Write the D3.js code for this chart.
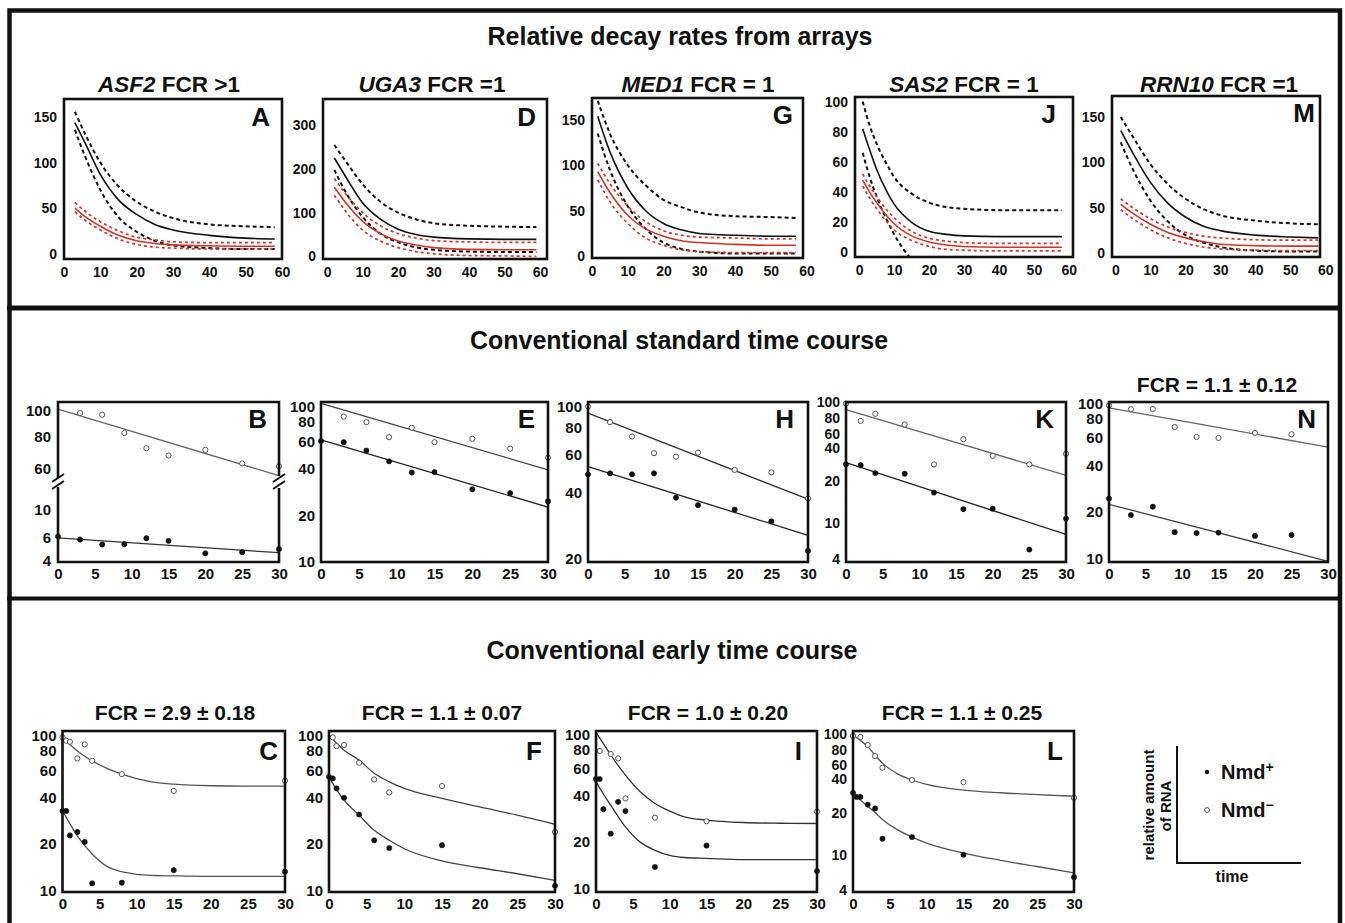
<!DOCTYPE html>
<html>
<head>
<meta charset="utf-8">
<script src="https://cdn.jsdelivr.net/npm/d3@7"></script>
<style>
  body { margin: 0; background: #fff; }
  svg text { font-family: "Liberation Sans", Arial, Helvetica, sans-serif; font-weight: bold; fill: #111; }
</style>
</head>
<body>
<svg id="fig" width="1345" height="923"></svg>
<script>
// ---------- row 1: relative decay rates from arrays (black = Nmd-, red = Nmd+) ----------
const arrXTicks = [0, 10, 20, 30, 40, 50, 60];

const aT = [3, 6, 10, 15, 20, 25, 30, 40, 50, 58];
const aBlk = [144, 120, 87, 59, 43, 32, 26, 20, 17, 16];
const aBlkHi = [156, 130, 100, 74, 57, 46, 39, 32, 30, 29];
const aBlkLo = [136, 105, 70, 40, 24, 14, 9, 6, 5, 5];
const aRed = [50, 40, 30, 20, 14, 11, 9.5, 8.5, 8, 8];
const aRedHi = [56, 46, 35, 25, 18, 15, 13, 12, 12, 12];
const aRedLo = [46, 36, 26, 16, 10, 7, 6, 5, 5, 5];

const dT = [2, 5, 10, 15, 20, 25, 30, 40, 50, 59];
const dBlk = [225, 185, 122, 85, 62, 50, 44, 40, 39, 39];
const dBlkHi = [255, 220, 165, 125, 100, 85, 76, 70, 68, 67];
const dBlkLo = [198, 150, 90, 52, 32, 21, 15, 11, 10, 10];
const dRed = [158, 125, 80, 52, 35, 26, 20, 16, 15, 15];
const dRedHi = [178, 145, 100, 70, 52, 42, 36, 33, 32, 32];
const dRedLo = [140, 105, 60, 35, 20, 11, 6, 2, 1, 0];

const gT = [1.6, 5, 10, 15, 20, 25, 30, 40, 50, 57];
const gBlk = [154, 115, 75, 50, 36, 29, 25, 23, 22, 22];
const gBlkHi = [171, 135, 100, 78, 62, 54, 48, 44, 43, 42];
const gBlkLo = [135, 95, 55, 30, 15, 8, 5, 3, 3, 3];
const gRed = [93, 70, 45, 30, 22, 17, 15, 13, 12, 12];
const gRedHi = [102, 80, 55, 38, 28, 23, 21, 20, 19, 19];
const gRedLo = [84, 60, 36, 20, 12, 7, 5, 4, 4, 4];

const jT = [1, 3, 5, 8, 10, 15, 20, 25, 30, 40, 58];
const jBlk = [82, 68, 55, 40, 32, 20, 14, 12, 11, 10.5, 10.5];
const jBlkHi = [100, 84, 72, 58, 50, 39, 33, 30, 29, 28, 28];
const jBlkLo = [66, 50, 37, 21, 12, -5, null, null, null, null, null];
const jRed = [48, 40, 33, 24, 19, 11, 7, 5, 4, 3.5, 3.5];
const jRedHi = [52, 44, 37, 28, 23, 14, 9.5, 7.5, 6.5, 6, 6];
const jRedLo = [44, 36, 29, 20, 15, 8, 4, 2, 1.5, 1, 1];

const mT = [1.5, 5, 10, 15, 20, 25, 30, 40, 50, 58];
const mBlk = [135, 110, 78, 55, 40, 30, 25, 20, 18, 17];
const mBlkHi = [150, 128, 98, 76, 60, 49, 42, 36, 33, 32];
const mBlkLo = [122, 92, 58, 35, 20, 12, 7, 3, 2, 2];
const mRed = [54, 44, 32, 23, 17, 13, 10, 8.5, 8, 8];
const mRedHi = [60, 50, 38, 29, 23, 19, 17, 15, 14.5, 14.5];
const mRedLo = [48, 38, 26, 17, 11, 7, 5, 3.5, 3, 3];

// ---------- row 2: conventional standard time course ----------
const stdXTicks = [0, 5, 10, 15, 20, 25, 30];
const fitT = [0, 30];

const bOpenT = [3, 6, 9, 12, 15, 20, 25, 30];
const bOpen = [98, 96.6, 82.3, 72, 67.5, 71, 63, 61.5];
const bFillT = [0, 3, 6, 9, 12, 15, 20, 25, 30];
const bFill = [6.16, 5.83, 5.33, 5.36, 5.97, 5.69, 4.54, 4.64, 4.9];
const bFitOpen = [101.5, 56.6];
const bFitFill = [6.0, 4.59];

const eOpenT = [3, 6, 9, 12, 15, 20, 25, 30];
const eOpen = [87, 80, 64, 73.6, 59.4, 62.5, 54, 47.2];
const eFillT = [0, 3, 6, 9, 12, 15, 20, 25, 30];
const eFill = [60.4, 59.4, 52.5, 44.7, 37.8, 38.1, 29.5, 27.9, 24.7];
const eFitOpen = [106, 39.4];
const eFitFill = [61.6, 22.6];

const hT = [0, 3, 6, 9, 12, 15, 20, 25, 30];
const hOpen = [100, 84.7, 72.8, 61, 58.8, 61.4, 51.1, 49.8, 37.8];
const hFill = [48.8, 49.3, 48.8, 49.3, 38.1, 35.2, 33.6, 29.7, 21.7];
const hFitOpen = [93.2, 37.5];
const hFitFill = [52.9, 25.6];

const kT = [0, 2, 4, 8, 12, 16, 20, 25, 30];
const kOpen = [100, 70, 81, 65, 28.5, 48, 34, 28.5, 35.5];
const kFill = [28.5, 28, 23.8, 23.5, 15.9, 11.3, 11.4, 4.9, 9.3];
const kFitOpen = [88.3, 22.7];
const kFitFill = [29.5, 6.7];

const nT = [0, 3, 6, 9, 12, 15, 20, 25];
const nOpen = [97.5, 91.9, 92.3, 70.6, 60.9, 60, 64.7, 63.4];
const nFill = [24.4, 19.1, 21.6, 14.8, 14.6, 14.7, 14.0, 14.2];
const nFitOpen = [93.7, 52.4];
const nFitFill = [22.4, 9.6];

// ---------- row 3: conventional early time course ----------
const cOpenT = [0, 0.5, 1, 2, 3, 4, 8, 15, 30];
const cOpen = [98, 93.3, 91.8, 71.6, 88.3, 69.1, 56.6, 44.1, 51.3];
const cFillT = [0, 0.5, 1, 2, 3, 4, 8, 15, 30];
const cFill = [32.7, 32.7, 22.7, 23.9, 20.6, 11.1, 11.2, 13.5, 13.2];
const cCurveT = [0, 1, 2, 3, 4, 6, 8, 10, 12, 15, 20, 25, 30];
const cCurveOpen = [97, 88, 80, 74, 69, 61.7, 56.6, 53, 50.5, 48.8, 47.6, 47.3, 47.3];
const cCurveFill = [32.7, 27, 22.5, 19.5, 17.2, 14.3, 13.2, 12.7, 12.5, 12.4, 12.3, 12.3, 12.3];

const fOpenT = [0.5, 1, 2, 4, 6, 8, 15, 30];
const fOpen = [98, 86.1, 87.4, 67.1, 52.3, 43.1, 47.4, 23.9];
const fFillT = [0, 0.5, 1, 2, 4, 6, 8, 15, 30];
const fFill = [54.4, 53.1, 45.8, 39.8, 31.0, 21.1, 18.8, 19.6, 10.7];
const fCurveT = [0, 1, 2, 4, 6, 8, 10, 15, 20, 25, 30];
const fCurveOpen = [101, 90, 81, 69.8, 57.3, 50.5, 45.8, 39.4, 34.7, 30.7, 26.8];
const fCurveFill = [54.4, 45, 38.4, 30.7, 24.5, 21.1, 18.6, 15.5, 14.0, 12.8, 11.6];

const iOpenT = [0.5, 2, 3, 4, 8, 15, 30];
const iOpen = [77.9, 74.5, 69.8, 38.4, 28.8, 27.3, 31.5];
const iFillT = [0, 0.5, 1, 2, 3, 4, 8, 15, 30];
const iFill = [51.3, 51.3, 32.7, 22.7, 36.5, 31.8, 13.8, 19.0, 13.0];
const iCurveT = [0, 1, 2, 4, 6, 8, 10, 12, 15, 20, 25, 30];
const iCurveOpen = [103, 87, 73.4, 54.4, 42.4, 35.6, 31.8, 29.2, 27.8, 26.8, 26.5, 26.4];
const iCurveFill = [49.3, 41, 34.7, 25.1, 20.0, 17.7, 16.4, 15.9, 15.7, 15.4, 15.4, 15.4];

const lOpenT = [0, 1, 2, 3, 4, 8, 15, 30];
const lOpen = [98.6, 96.5, 81.7, 64.9, 51, 39.4, 37.7, 27.2];
const lFillT = [0, 0.5, 1, 2, 3, 4, 8, 15, 30];
const lFill = [30.2, 27.7, 27.7, 23.6, 21.8, 11.6, 12.0, 8.3, 5.2];
const lCurveT = [0, 1, 2, 3, 4, 6, 8, 10, 15, 20, 25, 30];
const lCurveOpen = [100, 90, 79, 66, 56, 45, 39.4, 35.9, 31.9, 30.2, 29.1, 28.1];
const lCurveFill = [30.2, 26, 22.8, 20, 17.3, 14.0, 12.0, 10.6, 8.6, 7.4, 6.5, 5.7];

// ---------- drawing ----------
const svg = d3.select("#fig");
const red = "#d3342a";
const ink = "#111";

function pairs(t, v) {
  return d3.zip(t, v);
}

function styleAxis(a, size) {
  a.select(".domain").remove();
  a.selectAll("text").attr("font-size", size);
}

function box(g, p, w) {
  g.append("rect")
    .attr("x", p.x0).attr("y", p.y0)
    .attr("width", p.x1 - p.x0).attr("height", p.y1 - p.y0)
    .attr("fill", "none").attr("stroke", ink).attr("stroke-width", w);
}

function letter(g, txt, x, y) {
  g.append("text").attr("x", x).attr("y", y)
    .attr("text-anchor", "end").attr("font-size", 26).text(txt);
}

function heading(txt, x, y, size) {
  svg.append("text").attr("x", x).attr("y", y)
    .attr("text-anchor", "middle").attr("font-size", size).text(txt);
}

// row 1 panels
const arrayPanels = [
  { id: "A", gene: "ASF2", fcr: " FCR >1", cx: 169, x0: 64, x1: 282, y0: 99, y1: 259, xd: [0, 60], yd: [-6, 170], yt: [0, 50, 100, 150], lx: 270, ly: 126,
    t: aT, c: [aBlkHi, aBlkLo, aBlk, aRedHi, aRedLo, aRed] },
  { id: "D", gene: "UGA3", fcr: " FCR =1", cx: 432, x0: 323, x1: 547, y0: 99, y1: 259, xd: [-1.2, 62], yd: [-6, 360], yt: [0, 100, 200, 300], lx: 536, ly: 126,
    t: dT, c: [dBlkHi, dBlkLo, dBlk, dRedHi, dRedLo, dRed] },
  { id: "G", gene: "MED1", fcr: " FCR = 1", cx: 698, x0: 592, x1: 803, y0: 98, y1: 258, xd: [0, 59], yd: [-2, 174], yt: [0, 50, 100, 150], lx: 793, ly: 124,
    t: gT, c: [gBlkHi, gBlkLo, gBlk, gRedHi, gRedLo, gRed] },
  { id: "J", gene: "SAS2", fcr: " FCR = 1", cx: 964, x0: 855, x1: 1073, y0: 97, y1: 257, xd: [-1.2, 61.2], yd: [-3, 103], yt: [0, 20, 40, 60, 80, 100], lx: 1056, ly: 123,
    t: jT, c: [jBlkHi, jBlkLo, jBlk, jRedHi, jRedLo, jRed] },
  { id: "M", gene: "RRN10", fcr: " FCR =1", cx: 1219, x0: 1112, x1: 1320, y0: 96, y1: 257, xd: [-1, 58.5], yd: [-4, 173], yt: [0, 50, 100, 150], lx: 1315, ly: 122,
    t: mT, c: [mBlkHi, mBlkLo, mBlk, mRedHi, mRedLo, mRed] }
];
const curveStyles = [
  { color: ink, dash: "4,3", w: 2 },
  { color: ink, dash: "4,3", w: 2 },
  { color: ink, dash: null, w: 1.6 },
  { color: red, dash: "3,3", w: 1.7 },
  { color: red, dash: "3,3", w: 1.7 },
  { color: red, dash: null, w: 1.6 }
];

arrayPanels.forEach(p => {
  const g = svg.append("g");
  const x = d3.scaleLinear().domain(p.xd).range([p.x0, p.x1]);
  const y = d3.scaleLinear().domain(p.yd).range([p.y1, p.y0]);

  g.append("clipPath").attr("id", "clip" + p.id)
    .append("rect").attr("x", p.x0).attr("y", p.y0)
    .attr("width", p.x1 - p.x0).attr("height", p.y1 - p.y0);

  const line = d3.line()
    .defined(d => d[1] != null)
    .x(d => x(d[0])).y(d => y(d[1]))
    .curve(d3.curveMonotoneX);

  p.c.forEach((vals, i) => {
    const s = curveStyles[i];
    g.append("path")
      .datum(pairs(p.t, vals))
      .attr("clip-path", `url(#clip${p.id})`)
      .attr("d", line)
      .attr("fill", "none")
      .attr("stroke", s.color)
      .attr("stroke-width", s.w)
      .attr("stroke-dasharray", s.dash);
  });

  box(g, p, 2.6);

  g.append("g").attr("transform", `translate(${p.x0},0)`)
    .call(d3.axisLeft(y).tickValues(p.yt).tickSize(0).tickPadding(7))
    .call(a => styleAxis(a, 14));
  g.append("g").attr("transform", `translate(0,${p.y1})`)
    .call(d3.axisBottom(x).tickValues(arrXTicks).tickSize(0).tickPadding(8))
    .call(a => styleAxis(a, 14));

  letter(g, p.id, p.lx, p.ly);

  const st = g.append("text").attr("x", p.cx).attr("y", 91.5)
    .attr("text-anchor", "middle").attr("font-size", 22.5);
  st.append("tspan").attr("font-style", "italic").text(p.gene);
  st.append("tspan").text(p.fcr);
});

// shared helpers for the time-course panels
function points(g, x, y, t, v, open) {
  g.append("g").selectAll("circle")
    .data(pairs(t, v))
    .join("circle")
    .attr("cx", d => x(d[0]))
    .attr("cy", d => y(d[1]))
    .attr("r", 2.6)
    .attr("fill", open ? "#fff" : ink)
    .attr("stroke", open ? "#555" : ink)
    .attr("stroke-width", open ? 1 : 0.6);
}

function fitLine(g, x, y, t, v, color, w) {
  g.append("path")
    .datum(pairs(t, v))
    .attr("d", d3.line().x(d => x(d[0])).y(d => y(d[1])).curve(d3.curveMonotoneX))
    .attr("fill", "none").attr("stroke", color).attr("stroke-width", w);
}

// panel B: broken log axis
(function () {
  const p = { x0: 58, x1: 279, y0: 402, y1: 562 };
  const g = svg.append("g");
  const x = d3.scaleLinear().domain([0, 30]).range([p.x0, p.x1]);
  const yUp = d3.scaleLog().domain([54.5, 108]).range([480, p.y0]);
  const yLo = d3.scaleLog().domain([3.88, 15.1]).range([p.y1, 487]);

  fitLine(g, x, yUp, fitT, bFitOpen, "#666", 1.3);
  fitLine(g, x, yLo, fitT, bFitFill, "#333", 1.3);
  points(g, x, yUp, bOpenT, bOpen, true);
  points(g, x, yLo, bFillT, bFill, false);

  const fr = d3.path();
  fr.moveTo(p.x0, 478); fr.lineTo(p.x0, p.y0); fr.lineTo(p.x1, p.y0); fr.lineTo(p.x1, 476);
  fr.moveTo(p.x1, 488); fr.lineTo(p.x1, p.y1); fr.lineTo(p.x0, p.y1); fr.lineTo(p.x0, 487);
  g.append("path").attr("d", fr.toString()).attr("fill", "none")
    .attr("stroke", ink).attr("stroke-width", 2.6);
  [p.x0, p.x1].forEach(bx => {
    [0, 7].forEach(off => {
      g.append("line")
        .attr("x1", bx - 6).attr("y1", 482 + off)
        .attr("x2", bx + 6).attr("y2", 474 + off)
        .attr("stroke", ink).attr("stroke-width", 2);
    });
  });

  g.append("g").attr("transform", `translate(${p.x0},0)`)
    .call(d3.axisLeft(yUp).tickValues([60, 80, 100]).tickSize(0).tickPadding(7).tickFormat(d3.format("d")))
    .call(a => styleAxis(a, 15));
  g.append("g").attr("transform", `translate(${p.x0},0)`)
    .call(d3.axisLeft(yLo).tickValues([4, 6, 10]).tickSize(0).tickPadding(7).tickFormat(d3.format("d")))
    .call(a => styleAxis(a, 15));
  g.append("g").attr("transform", `translate(0,${p.y1})`)
    .call(d3.axisBottom(x).tickValues(stdXTicks).tickSize(0).tickPadding(6))
    .call(a => styleAxis(a, 15));
  letter(g, "B", 267, 428);
})();

function logPanel(p) {
  const g = svg.append("g");
  const x = d3.scaleLinear().domain([0, 30]).range([p.x0, p.x1]);
  const y = d3.scaleLog().domain(p.yd).range([p.y1, p.y0]);

  fitLine(g, x, y, p.curveT, p.curveOpen, p.openLine, 1.3);
  fitLine(g, x, y, p.curveT, p.curveFill, p.fillLine, 1.3);
  points(g, x, y, p.openT, p.open, true);
  points(g, x, y, p.fillT, p.fill, false);
  box(g, p, 2.6);

  // the printed labels on the dense log axes sit a little apart from their true positions
  const shift = p.shift || {};
  g.append("g").attr("transform", `translate(${p.x0},0)`)
    .call(d3.axisLeft(y).tickValues(p.yt).tickSize(0).tickPadding(6).tickFormat(d3.format("d")))
    .call(a => styleAxis(a, p.tickSize || 15))
    .call(a => a.selectAll(".tick text").attr("transform", d => `translate(0,${shift[d] || 0})`));
  g.append("g").attr("transform", `translate(0,${p.y1})`)
    .call(d3.axisBottom(x).tickValues(stdXTicks).tickSize(0).tickPadding(6))
    .call(a => styleAxis(a, 15));
  letter(g, p.id, p.lx, p.ly);
  if (p.fcr) heading(p.fcr, p.cx, p.fy, 21);
}

const tk = [10, 20, 40, 60, 80, 100];
const tk4 = [4, 10, 20, 40, 60, 80, 100];

// row 2
logPanel({ id: "E", x0: 321, x1: 548, y0: 402, y1: 562, yd: [10, 108], yt: tk, lx: 535, ly: 428,
  curveT: fitT, curveOpen: eFitOpen, curveFill: eFitFill, openLine: "#444", fillLine: "#222",
  openT: eOpenT, open: eOpen, fillT: eFillT, fill: eFill });
logPanel({ id: "H", x0: 588, x1: 808, y0: 402, y1: 562, yd: [19.3, 104.8], yt: [20, 40, 60, 80, 100], lx: 794, ly: 428,
  curveT: fitT, curveOpen: hFitOpen, curveFill: hFitFill, openLine: "#333", fillLine: "#222",
  openT: hT, open: hOpen, fillT: hT, fill: hFill });
logPanel({ id: "K", x0: 846, x1: 1066, y0: 402, y1: 562, yd: [3.79, 103.4], yt: tk4, lx: 1054, ly: 428,
  tickSize: 14, shift: { 100: -1.5, 80: 4, 60: 6, 10: 8 },
  curveT: fitT, curveOpen: kFitOpen, curveFill: kFitFill, openLine: "#666", fillLine: "#222",
  openT: kT, open: kOpen, fillT: kT, fill: kFill });
logPanel({ id: "N", x0: 1109, x1: 1328, y0: 402, y1: 562, yd: [9.5, 102.4], yt: tk, lx: 1316, ly: 428,
  curveT: fitT, curveOpen: nFitOpen, curveFill: nFitFill, openLine: "#666", fillLine: "#444",
  openT: nT, open: nOpen, fillT: nT, fill: nFill,
  fcr: "FCR = 1.1 \u00b1 0.12", cx: 1217, fy: 392 });

// row 3
logPanel({ id: "C", x0: 62.5, x1: 285, y0: 731, y1: 892, yd: [9.75, 107.8], yt: tk, lx: 278, ly: 760,
  curveT: cCurveT, curveOpen: cCurveOpen, curveFill: cCurveFill, openLine: "#555", fillLine: "#555",
  openT: cOpenT, open: cOpen, fillT: cFillT, fill: cFill,
  fcr: "FCR = 2.9 \u00b1 0.18", cx: 175, fy: 720 });
logPanel({ id: "F", x0: 329, x1: 555, y0: 731, y1: 892, yd: [9.75, 107.8], yt: tk, lx: 542, ly: 760,
  curveT: fCurveT, curveOpen: fCurveOpen, curveFill: fCurveFill, openLine: "#444", fillLine: "#444",
  openT: fOpenT, open: fOpen, fillT: fFillT, fill: fFill,
  fcr: "FCR = 1.1 \u00b1 0.07", cx: 442, fy: 720 });
logPanel({ id: "I", x0: 596, x1: 817, y0: 731, y1: 892, yd: [9.5, 105], yt: tk, lx: 802, ly: 760,
  curveT: iCurveT, curveOpen: iCurveOpen, curveFill: iCurveFill, openLine: "#333", fillLine: "#333",
  openT: iOpenT, open: iOpen, fillT: iFillT, fill: iFill,
  fcr: "FCR = 1.0 \u00b1 0.20", cx: 708, fy: 720 });
logPanel({ id: "L", x0: 853, x1: 1074, y0: 731, y1: 892, yd: [3.82, 109.4], yt: tk4, lx: 1063, ly: 760,
  tickSize: 14, shift: { 100: -1.5, 80: 4, 60: 5.5, 10: 9 },
  curveT: lCurveT, curveOpen: lCurveOpen, curveFill: lCurveFill, openLine: "#555", fillLine: "#555",
  openT: lOpenT, open: lOpen, fillT: lFillT, fill: lFill,
  fcr: "FCR = 1.1 \u00b1 0.25", cx: 962, fy: 720 });

// section titles
heading("Relative decay rates from arrays", 680, 45, 25);
heading("Conventional standard time course", 679, 349, 25);
heading("Conventional early time course", 672, 659, 25);

// legend
const lg = svg.append("g");
lg.append("path").attr("d", "M1177,746V863H1301")
  .attr("fill", "none").attr("stroke", ink).attr("stroke-width", 2);
lg.append("text").attr("transform", "translate(1154,805) rotate(-90)")
  .attr("text-anchor", "middle").attr("font-size", 15).text("relative amount");
lg.append("text").attr("transform", "translate(1171,806) rotate(-90)")
  .attr("text-anchor", "middle").attr("font-size", 15).text("of RNA");
lg.append("text").attr("x", 1232).attr("y", 882)
  .attr("text-anchor", "middle").attr("font-size", 16).text("time");
lg.append("circle").attr("cx", 1207).attr("cy", 772).attr("r", 2.2).attr("fill", ink);
lg.append("circle").attr("cx", 1207).attr("cy", 810).attr("r", 2.4)
  .attr("fill", "#fff").attr("stroke", "#555").attr("stroke-width", 1);
const t1 = lg.append("text").attr("x", 1221).attr("y", 779).attr("font-size", 20);
t1.append("tspan").text("Nmd");
t1.append("tspan").attr("font-size", 14).attr("dy", -7).text("+");
const t2 = lg.append("text").attr("x", 1221).attr("y", 817).attr("font-size", 20);
t2.append("tspan").text("Nmd");
t2.append("tspan").attr("font-size", 14).attr("dy", -7).text("\u2212");

// outer frame and row separators
svg.append("rect").attr("x", 9.5).attr("y", 10.5).attr("width", 1330.5).attr("height", 930)
  .attr("fill", "none").attr("stroke", ink).attr("stroke-width", 4.5);
svg.append("line").attr("x1", 7).attr("x2", 1342).attr("y1", 308).attr("y2", 308)
  .attr("stroke", ink).attr("stroke-width", 5);
svg.append("line").attr("x1", 7).attr("x2", 1342).attr("y1", 598.5).attr("y2", 598.5)
  .attr("stroke", ink).attr("stroke-width", 4);
</script>
</body>
</html>
